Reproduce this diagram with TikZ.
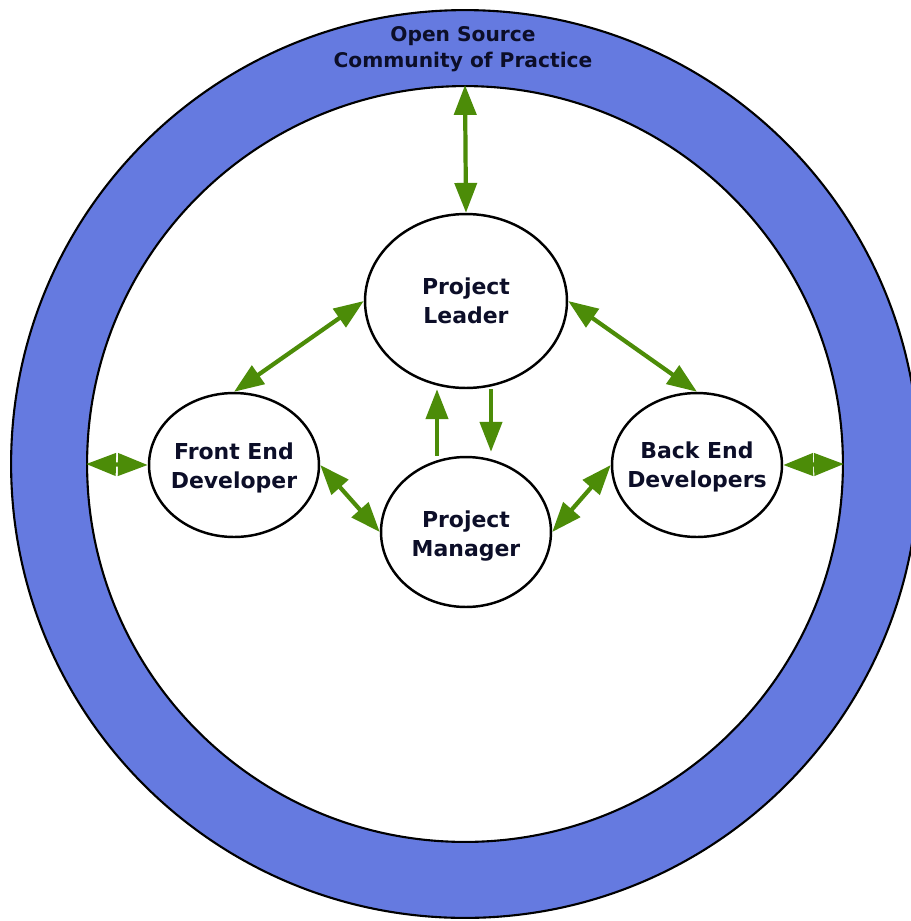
\documentclass[tikz,border=0pt]{standalone}
\usepackage{fontspec}
\setsansfont{DejaVu Sans}
\usetikzlibrary{arrows.meta,shapes.geometric,calc}
\definecolor{ringblue}{RGB}{101,122,224}
\definecolor{linkgreen}{RGB}{76,140,8}
\definecolor{labelink}{RGB}{12,14,40}

\begin{document}
\begin{tikzpicture}[x=0.02cm, y=-0.02cm,
	role/.style={ellipse, draw=black, line width=1.4pt, fill=white, inner sep=0pt},
	roletext/.style={align=center, text=labelink, inner sep=0pt,
		font=\sffamily\bfseries\fontsize{12.5}{16.5}\selectfont},
	link/.style={draw=linkgreen, line width=2.4pt,
		{Triangle[length=17pt,width=12.5pt]}-{Triangle[length=17pt,width=12.5pt]}},
	oneway/.style={draw=linkgreen, line width=2.4pt, -{Triangle[length=17pt,width=12.5pt]}}]
	\useasboundingbox (0,0) rectangle (911,921);

	% community ring
	\node[circle, draw=black, line width=1.2pt, fill=ringblue, minimum size=18.16cm] (outer) at (465,464) {};
	\node[circle, draw=black, line width=1.2pt, fill=white, minimum size=15.12cm] (inner) at (465,464) {};
	\node[align=center, text=labelink, font=\sffamily\bfseries\fontsize{11.5}{14.7}\selectfont] (title) at (463,49) {Open Source\\Community of Practice};

	% roles
	\node[role, minimum width=4.04cm, minimum height=3.48cm,
		label={[roletext]center:{Project\\Leader}}] (lead) at (466,301) {};
	\node[role, minimum width=3.4cm, minimum height=2.88cm,
		label={[roletext, yshift=-0.06cm]center:{Front End\\Developer}}] (fed) at (234,465) {};
	\node[role, minimum width=3.4cm, minimum height=2.88cm,
		label={[roletext, yshift=-0.04cm]center:{Back End\\Developers}}] (bed) at (697,465) {};
	\node[role, minimum width=3.4cm, minimum height=3.0cm,
		label={[roletext, yshift=-0.08cm]center:{Project\\Manager}}] (mgr) at (466,532) {};

	% links
	\draw[link] (inner.north) -- (lead.north);
	\draw[link] (lead.west) -- (fed.north);
	\draw[link] (lead.east) -- (bed.north);
	\draw[link] (fed.east) -- (mgr.west);
	\draw[link] (mgr.east) -- (bed.west);
	\draw[link] (inner.west) -- (fed.west);
	\draw[link] (bed.east) -- (inner.east);

	\draw[oneway] ($(mgr.north)+(-29,0)$) coordinate (up0) -- (up0 |- lead.south);
	\draw[oneway] ($(lead.south)+(25,0)$) coordinate (dn0) -- ($(dn0 |- mgr.north)+(0,-4)$);
\end{tikzpicture}
\end{document}
